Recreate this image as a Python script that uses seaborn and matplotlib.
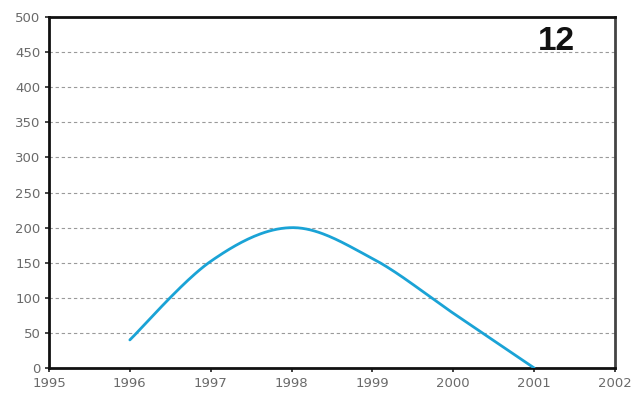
import numpy as np
import pandas as pd
import matplotlib
matplotlib.use("Agg")
import matplotlib.pyplot as plt
import seaborn as sns

# Yearly values of the series
years = [1996, 1997, 1998, 1999, 2000, 2001]
values = [40, 152, 200, 156, 78, 0]

x_ticks = list(range(1995, 2003))
y_ticks = list(range(0, 501, 50))
panel_label = "12"


def smooth_curve(xs, ys, steps=40):
    """Excel-style smoothed line: cubic Bezier segments with Catmull-Rom tangents."""
    xs = np.asarray(xs, float)
    ys = np.asarray(ys, float)
    n = len(xs)
    px = np.concatenate([[xs[0]], xs, [xs[-1]]])
    py = np.concatenate([[ys[0]], ys, [ys[-1]]])
    out_x, out_y = [], []
    t = np.linspace(0, 1, steps)
    for i in range(n - 1):
        p0 = np.array([xs[i], ys[i]])
        p3 = np.array([xs[i + 1], ys[i + 1]])
        p1 = p0 + (np.array([px[i + 2], py[i + 2]]) - np.array([px[i], py[i]])) / 6.0
        p2 = p3 - (np.array([px[i + 3], py[i + 3]]) - np.array([px[i + 1], py[i + 1]])) / 6.0
        b = ((1 - t) ** 3)[:, None] * p0 + (3 * (1 - t) ** 2 * t)[:, None] * p1 \
            + (3 * (1 - t) * t ** 2)[:, None] * p2 + (t ** 3)[:, None] * p3
        if i > 0:
            b = b[1:]
        out_x.extend(b[:, 0])
        out_y.extend(b[:, 1])
    return np.array(out_x), np.array(out_y)


sns.set_theme(style="white")
plt.rcParams["font.family"] = ["DejaVu Sans"]

fig = plt.figure(figsize=(6.37, 3.98), dpi=100)
ax = fig.add_axes([0.0769, 0.0754, 0.8886, 0.8816])

cx, cy = smooth_curve(years, values)
curve = pd.DataFrame({"year": cx, "value": cy})
sns.lineplot(data=curve, x="year", y="value", sort=False, estimator=None,
             color="#1aa3d6", linewidth=2.0, ax=ax, zorder=3)

ax.set_xlim(1995, 2002)
ax.set_ylim(0, 500)
ax.set_xticks(x_ticks)
ax.set_yticks(y_ticks)
ax.set_xticklabels([str(v) for v in x_ticks])
ax.set_yticklabels([str(v) for v in y_ticks])
ax.set_xlabel("")
ax.set_ylabel("")

ax.yaxis.grid(True, color="#9a9a9a", linestyle=(0, (3, 2.5)), linewidth=0.8)
ax.xaxis.grid(False)
ax.set_axisbelow(True)

ax.tick_params(axis="both", which="major", direction="out", length=3, width=1.2,
               color="#222222", labelsize=9.5, labelcolor="#6a6a6a",
               bottom=True, left=True)
ax.tick_params(axis="x", pad=3.5)
ax.tick_params(axis="y", pad=3)

for side in ["left", "bottom", "top"]:
    ax.spines[side].set_visible(True)
    ax.spines[side].set_color("#111111")
    ax.spines[side].set_linewidth(2.0)
ax.spines["right"].set_visible(True)
ax.spines["right"].set_color("#444444")
ax.spines["right"].set_linewidth(2.0)

ax.text(0.896, 0.93, panel_label, transform=ax.transAxes, ha="center", va="center",
        fontsize=24, fontweight="bold", family=["Liberation Sans", "DejaVu Sans"],
        color="#111111")

fig.savefig("out.png", dpi=100)
